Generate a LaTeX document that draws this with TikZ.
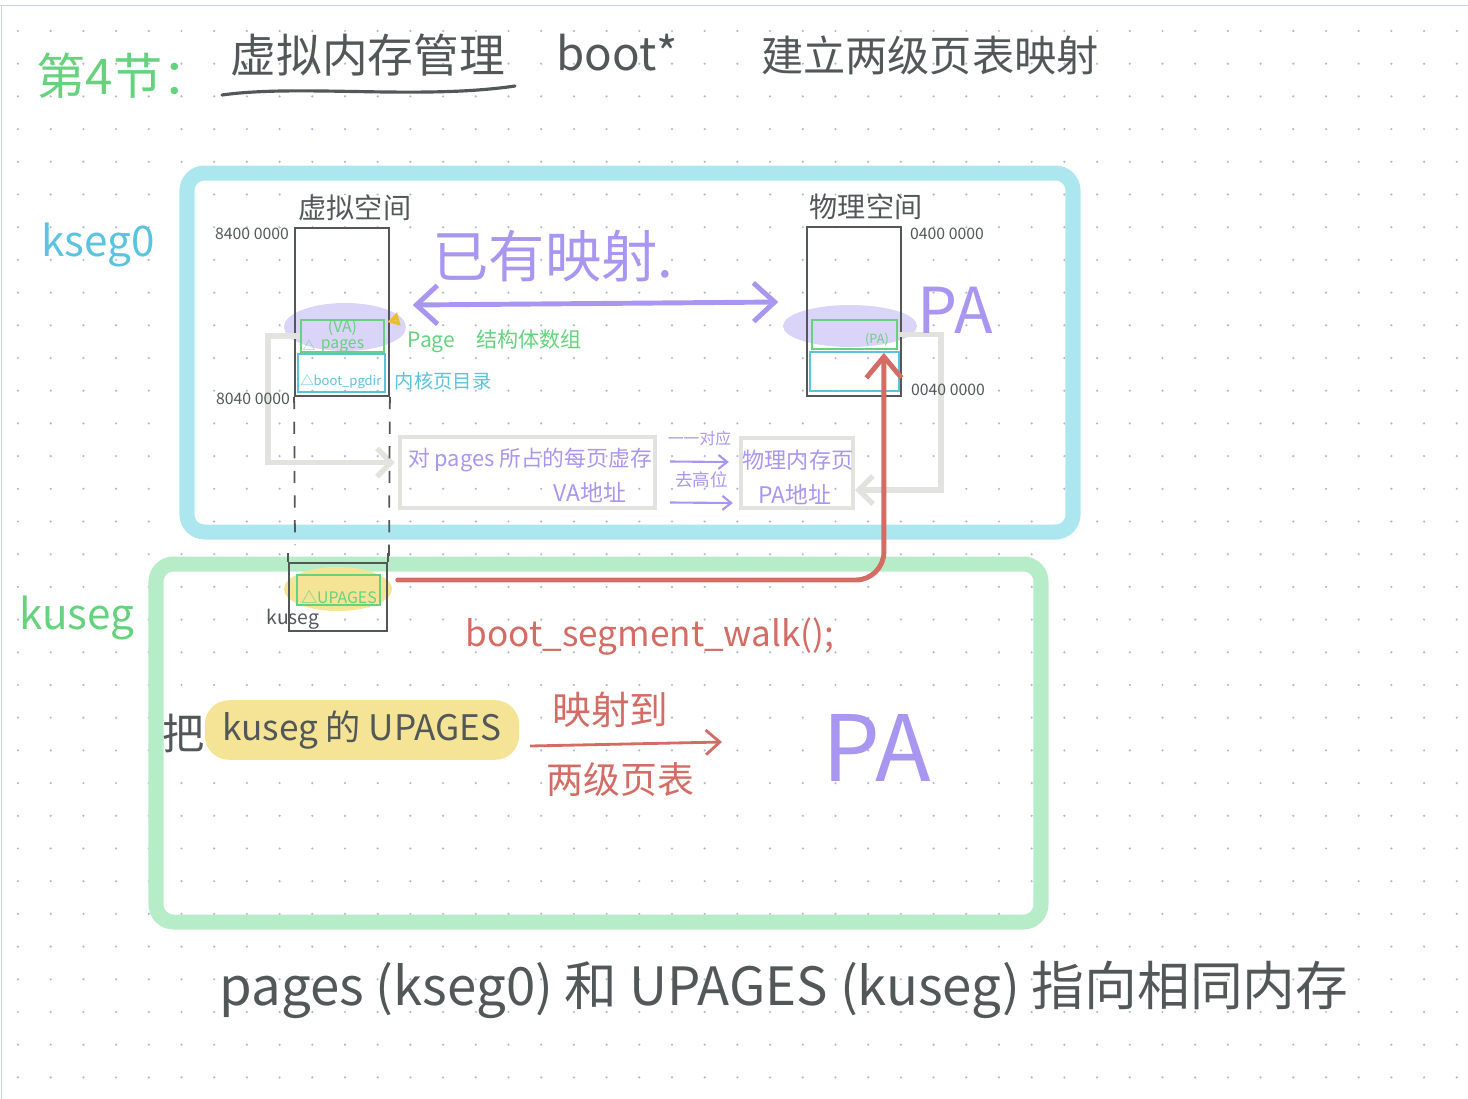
\documentclass[tikz,border=0pt]{standalone}
\usepackage{fontspec}
\setmainfont{Noto Sans CJK SC}
\usetikzlibrary{arrows.meta, positioning, calc, shapes.geometric}
\definecolor{inkdark}{RGB}{82,88,88}
\definecolor{kcyanbox}{RGB}{172,230,238}
\definecolor{kcyantext}{RGB}{90,195,222}
\definecolor{kgreenbox}{RGB}{183,236,201}
\definecolor{kgreentext}{RGB}{102,210,125}
\definecolor{kpurple}{RGB}{168,150,240}
\definecolor{kpurplefill}{RGB}{218,212,248}
\definecolor{kred}{RGB}{210,108,100}
\definecolor{kyellow}{RGB}{246,228,150}
\definecolor{ktri}{RGB}{235,190,50}
\definecolor{kgrey}{RGB}{226,226,222}
\definecolor{kdot}{RGB}{175,185,215}
\definecolor{kedge}{RGB}{200,210,225}
\newcommand{\fsz}[1]{\fontsize{#1}{#1}\selectfont}
\tikzset{
  hand/.style={inner sep=0pt, text=inkdark},
  segframe/.style={line width=0.15cm, rounded corners=5pt},
  column/.style={draw=inkdark, line width=0.5pt, inner sep=0pt},
  greenslot/.style={draw=kgreentext, line width=0.5pt, inner sep=0pt},
  cyanslot/.style={draw=kcyantext, line width=0.5pt, inner sep=0pt},
  glow/.style={ellipse, fill=kpurplefill, inner sep=0pt},
  sunglow/.style={ellipse, fill=kyellow, inner sep=0pt},
  greyframe/.style={draw=kgrey, line width=1.2pt, inner sep=0pt},
  greyflow/.style={draw=kgrey, line width=1.5pt, -{Straight Barb[length=4pt, width=8pt]}},
  mapflow/.style={draw=kpurple, line width=1.4pt, line cap=round,
    {Straight Barb[length=6pt, width=11pt]}-{Straight Barb[length=6pt, width=11pt]}},
  thinflow/.style={draw=kpurple, line width=0.6pt, -{Straight Barb[length=2.5pt, width=4pt]}},
  redflow/.style={draw=kred, line width=1.4pt, line cap=round, -{Straight Barb[length=6pt, width=10pt]}},
  redthin/.style={draw=kred, line width=0.8pt, -{Straight Barb[length=4pt, width=7pt]}},
  dashline/.style={draw=inkdark, line width=0.5pt, dash pattern=on 3.5pt off 3.5pt}
}
\begin{document}
\begin{tikzpicture}[x=0.01cm, y=-0.01cm]
  \useasboundingbox (0,0) rectangle (1468,1099);
  % paper
  \foreach \i in {0,...,44} {
    \foreach \j in {0,...,32} {
      \fill[kdot] (18+\i*32.7, 31+\j*32.7) circle (0.35pt);
    }
  }
  \draw[kedge, line width=0.4pt] (0,5.5) -- (1468,5.5);
  \draw[kedge, line width=0.4pt] (1.5,5.5) -- (1.5,1099);

  % heading
  \node[hand, text=kgreentext, font=\fsz{14}] (chap) at (124,76) {第4节：};
  \node[hand, font=\fsz{13}] (topic) at (368,55) {虚拟内存管理};
  \draw[inkdark, line width=0.9pt, line cap=round] (222,95) .. controls (300,84) and (420,100) .. (515,86);
  \node[hand, font=\fsz{13}] (bootstar) at (617,53) {boot*};
  \node[hand, font=\fsz{12}] (goal) at (930,55) {建立两级页表映射};

  % segment frames
  \draw[segframe, draw=kcyanbox] (187,173) rectangle (1073,532);
  \draw[segframe, draw=kgreenbox] (156,564) rectangle (1041,922);
  \node[hand, text=kcyantext, font=\fsz{12}] (ksegzero) at (98,245) {kseg0};
  \node[hand, text=kgreentext, font=\fsz{12}] (kuseglbl) at (77,618) {kuseg};

  % virtual and physical columns
  \node[glow, minimum width=1.22cm, minimum height=0.48cm] (vglow) at (345,327) {};
  \node[glow, minimum width=1.34cm, minimum height=0.42cm] (pglow) at (850,326) {};
  \node[column, minimum width=0.94cm, minimum height=1.68cm] (vcol) at (342,312) {};
  \node[column, minimum width=0.94cm, minimum height=1.69cm] (pcol) at (854,311.5) {};
  \node[greenslot, minimum width=0.83cm, minimum height=0.28cm, font=\fsz{4.5},
    text=kgreentext, align=center] (vpages) at (342.5,336) {(VA)\\pages};
  \node[hand, text=kgreentext, font=\fsz{3.5}] (vpagestri) at (309,345) {△};
  \node[cyanslot, minimum width=0.87cm, minimum height=0.38cm] (vpgdir) at (341.5,373) {};
  \node[greenslot, minimum width=0.85cm, minimum height=0.29cm] (ppa) at (854.5,334.5) {};
  \node[cyanslot, minimum width=0.89cm, minimum height=0.39cm] (pcyan) at (854.5,371.5) {};

  % VA -> PA (grey guides first, labels on top)
  \node[greyframe, minimum width=2.55cm, minimum height=0.71cm] (vabox) at (527.5,472.5) {};
  \node[greyframe, minimum width=1.12cm, minimum height=0.70cm] (pafr) at (797,473) {};
  \draw[greyflow] (vpages.west) -- ++(-32,0) |- ($(vabox.west)+(-3,-10)$);
  \draw[greyflow] (ppa.east) -- ++(43,0) |- ($(pafr.east)+(0,17)$);
  \node[hand, text=kpurple, font=\fsz{6.2}] (valine) at (530,460) {对 pages 所占的每页虚存};
  \node[hand, text=kpurple, font=\fsz{6.5}] (vaaddr) at (590,493) {VA地址};
  \node[hand, text=kpurple, font=\fsz{6.3}] (pamem) at (798,460) {物理内存页};
  \node[hand, text=kpurple, font=\fsz{6.5}] (paaddr) at (795,495) {PA地址};
  \draw[thinflow] ($(vabox.east)+(13,-11)$) -- ($(pafr.west)+(-10,-11)$)
    node[midway, above=1pt, text=kpurple, font=\fsz{4.5}] (onetoone) {一一对应};
  \draw[thinflow] ($(vabox.east)+(13,30)$) -- ($(pafr.west)+(-6,30)$)
    node[midway, above=0.5pt, text=kpurple, font=\fsz{5}] (dropbits) {去高位};

  \node[hand, text=kcyantext, font=\fsz{3.7}] (vpgdirtxt) at (341,382) {△boot\_pgdir};
  \node[hand, text=kgreentext, font=\fsz{3.6}] (ppatxt) at (877,340) {(PA)};
  \node[regular polygon, regular polygon sides=3, draw=ktri, line width=1pt,
    minimum size=0.09cm, inner sep=0pt, rotate=-15] (vtri) at (395,320) {};
  \node[hand, font=\fsz{8}] (vtitle) at (355,208) {虚拟空间};
  \node[hand, font=\fsz{8}] (ptitle) at (866,207) {物理空间};
  \node[hand, font=\fsz{4.5}] (vtop) at (252,234) {8400 0000};
  \node[hand, font=\fsz{4.5}] (vbot) at (253,399) {8040 0000};
  \node[hand, font=\fsz{4.5}] (ptop) at (947,234) {0400 0000};
  \node[hand, font=\fsz{4.5}] (pbot) at (948,390) {0040 0000};
  \node[hand, text=kgreentext, font=\fsz{6}, anchor=west] (pagelbl) at (407,341) {Page\quad 结构体数组};
  \node[hand, text=kcyantext, font=\fsz{5.5}, anchor=west] (pgdirlbl) at (394,381) {内核页目录};

  % existing mapping
  \node[hand, text=kpurple, font=\fsz{16}] (known) at (553,256) {已有映射.};
  \node[hand, text=kpurple, font=\fsz{18}] (patop) at (955,310) {PA};
  \draw[mapflow] ($(vglow.east)+(6,-22)$) -- ($(pglow.west)+(-4,-24)$);

  % dashed guides down to kuseg
  \coordinate (vdashl) at (295,545);
  \coordinate (vdashr) at (389,556);
  \draw[dashline] (vcol.south west) -- (vdashl);
  \draw[dashline] (vcol.south east) -- (vdashr);

  % kuseg column
  \node[sunglow, minimum width=1.08cm, minimum height=0.44cm] (upghl) at (338,589) {};
  \node[column, minimum width=0.98cm, minimum height=0.68cm] (ucol) at (338,597) {};
  \draw[inkdark, line width=0.5pt] (ucol.north west) -- ++(0,-9);
  \draw[inkdark, line width=0.5pt] (ucol.north east) -- ++(0,-9);
  \node[greenslot, minimum width=0.83cm, minimum height=0.30cm] (upg) at (338.5,590) {};
  \node[hand, text=kgreentext, font=\fsz{4.5}] (upgtxt) at (339,597) {△UPAGES};
  \node[hand, font=\fsz{5.5}] (kusegsmall) at (293,619) {kuseg};

  % boot_segment_walk
  \draw[redflow, rounded corners=8pt] ($(upghl.east)+(5,-9)$) -| ($(ppa.south east)+(-14,3)$);
  \node[hand, text=kred, font=\fsz{10}] (walk) at (650,637) {boot\_segment\_walk();};
  \node[hand, font=\fsz{12}] (ba) at (184,733) {把};
  \node[fill=kyellow, rounded corners=0.24cm, inner xsep=5pt, inner ysep=3pt,
    font=\fsz{10}, text=inkdark] (uphl) at (362,730) {kuseg 的 UPAGES};
  \coordinate (maptail) at (530,746);
  \coordinate (maphead) at (722,742);
  \draw[redthin] (maptail) -- (maphead)
    node[pos=0.42, above=1pt, text=kred, font=\fsz{11}] (mapto) {映射到}
    node[pos=0.47, below=1.5pt, text=kred, font=\fsz{10.5}] (twolevel) {两级页表};
  \node[hand, text=kpurple, font=\fsz{26}] (pabot) at (877,748) {PA};

  % summary
  \node[hand, font=\fsz{15}] (summary) at (784,990) {pages (kseg0) 和 UPAGES (kuseg) 指向相同内存};
\end{tikzpicture}
\end{document}
